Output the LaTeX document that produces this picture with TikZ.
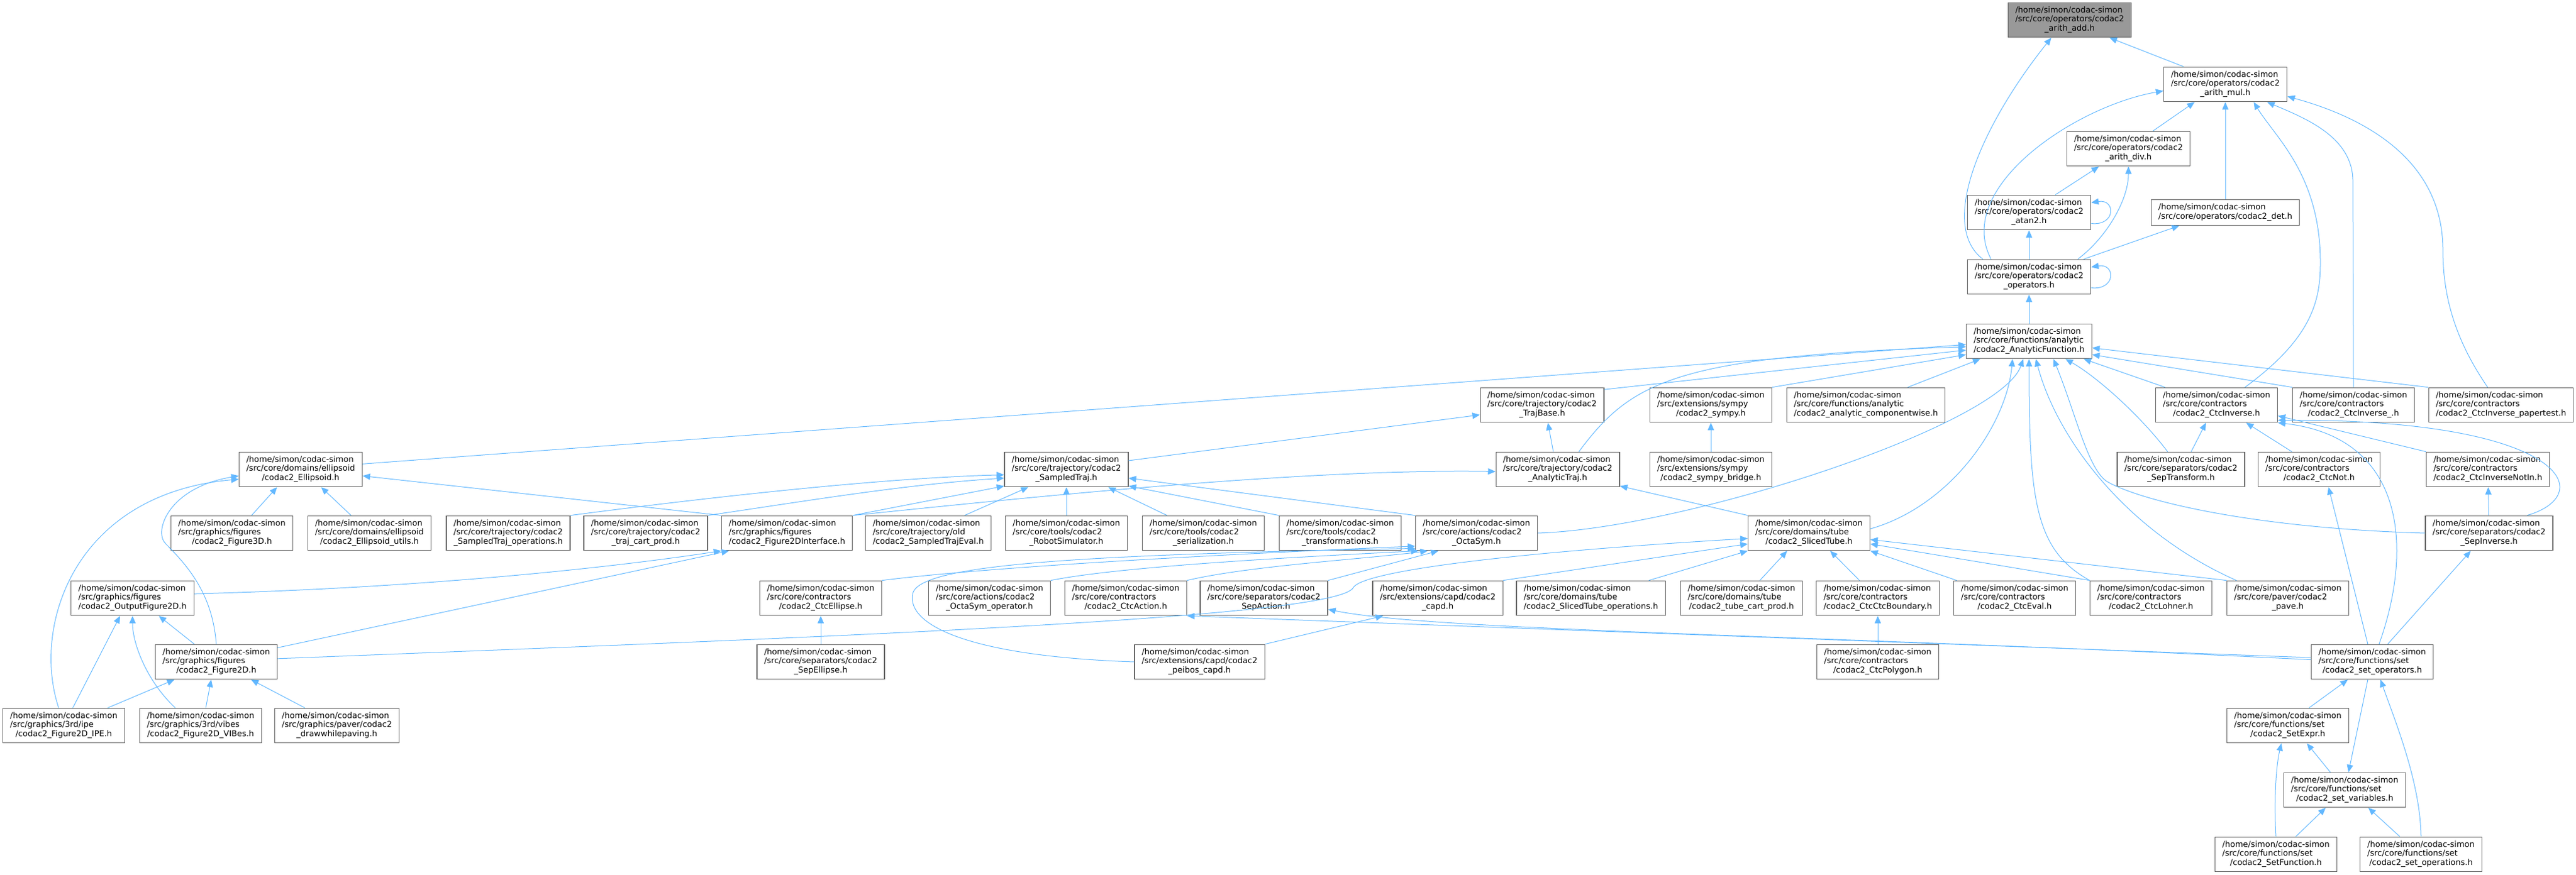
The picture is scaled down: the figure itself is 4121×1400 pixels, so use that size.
\documentclass[tikz,border=0pt]{standalone}
\usepackage{fontspec}
\setmainfont{DejaVu Sans}
\usetikzlibrary{arrows.meta}
\definecolor{edgeblue}{HTML}{63B8FF}
\definecolor{boxline}{HTML}{666666}
\definecolor{rootfill}{HTML}{999999}
\newcommand{\incfile}[2]{\begin{tabular}{@{}l@{}}/home/simon/codac-simon\\#1\\\multicolumn{1}{@{}c@{}}{#2}\end{tabular}}
\tikzset{
  filebox/.style={draw=boxline,fill=white,line width=0.6pt,inner xsep=5.8pt,inner ysep=3pt,font=\fontsize{6.5}{7.25}\selectfont},
  rootbox/.style={filebox,fill=rootfill},
  dep/.style={draw=edgeblue,line width=0.5pt,-{Triangle[length=6pt,width=5pt]}}
}
\begin{document}
\begin{tikzpicture}[x=0.5pt,y=-0.5pt]
\useasboundingbox (0,0) rectangle (4121,1400);
\node[rootbox] (add) at (3311,32) {\incfile{/src/core/operators/codac2}{\_arith\_add.h}};
\node[filebox] (mul) at (3560,135) {\incfile{/src/core/operators/codac2}{\_arith\_mul.h}};
\node[filebox] (div) at (3405,238) {\incfile{/src/core/operators/codac2}{\_arith\_div.h}};
\node[filebox] (atan) at (3246,340) {\incfile{/src/core/operators/codac2}{\_atan2.h}};
\node[filebox] (det) at (3560,340) {\begin{tabular}{@{}l@{}}/home/simon/codac-simon\\/src/core/operators/codac2\_det.h\end{tabular}};
\node[filebox] (ops) at (3246,443) {\incfile{/src/core/operators/codac2}{\_operators.h}};
\node[filebox] (af) at (3246,546) {\incfile{/src/core/functions/analytic}{/codac2\_AnalyticFunction.h}};
\node[filebox] (trajbase) at (2467,648) {\incfile{/src/core/trajectory/codac2}{\_TrajBase.h}};
\node[filebox] (sympy) at (2737,648) {\incfile{/src/extensions/sympy}{/codac2\_sympy.h}};
\node[filebox] (compw) at (2985,648) {\incfile{/src/core/functions/analytic}{/codac2\_analytic\_componentwise.h}};
\node[filebox] (ctcinv) at (3546,648) {\incfile{/src/core/contractors}{/codac2\_CtcInverse.h}};
\node[filebox] (ctcinvu) at (3765,648) {\incfile{/src/core/contractors}{/codac2\_CtcInverse\_.h}};
\node[filebox] (paper) at (4001,648) {\incfile{/src/core/contractors}{/codac2\_CtcInverse\_papertest.h}};
\node[filebox] (ellipsoid) at (481,751) {\incfile{/src/core/domains/ellipsoid}{/codac2\_Ellipsoid.h}};
\node[filebox] (sampled) at (1706,751) {\incfile{/src/core/trajectory/codac2}{\_SampledTraj.h}};
\node[filebox] (antraj) at (2492,751) {\incfile{/src/core/trajectory/codac2}{\_AnalyticTraj.h}};
\node[filebox] (bridge) at (2737,751) {\incfile{/src/extensions/sympy}{/codac2\_sympy\_bridge.h}};
\node[filebox] (septrans) at (3489,751) {\incfile{/src/core/separators/codac2}{\_SepTransform.h}};
\node[filebox] (ctcnot) at (3710,751) {\incfile{/src/core/contractors}{/codac2\_CtcNot.h}};
\node[filebox] (notin) at (3980,751) {\incfile{/src/core/contractors}{/codac2\_CtcInverseNotIn.h}};
\node[filebox] (fig3d) at (371,853) {\incfile{/src/graphics/figures}{/codac2\_Figure3D.h}};
\node[filebox] (ellutils) at (591,853) {\incfile{/src/core/domains/ellipsoid}{/codac2\_Ellipsoid\_utils.h}};
\node[filebox] (stops) at (813,853) {\incfile{/src/core/trajectory/codac2}{\_SampledTraj\_operations.h}};
\node[filebox] (cartprod) at (1033,853) {\incfile{/src/core/trajectory/codac2}{\_traj\_cart\_prod.h}};
\node[filebox] (fig2di) at (1259,853) {\incfile{/src/graphics/figures}{/codac2\_Figure2DInterface.h}};
\node[filebox] (steval) at (1485,853) {\incfile{/src/core/trajectory/old}{/codac2\_SampledTrajEval.h}};
\node[filebox] (robot) at (1706,853) {\incfile{/src/core/tools/codac2}{\_RobotSimulator.h}};
\node[filebox] (serial) at (1925,853) {\incfile{/src/core/tools/codac2}{\_serialization.h}};
\node[filebox] (transf) at (2144,853) {\incfile{/src/core/tools/codac2}{\_transformations.h}};
\node[filebox] (octa) at (2362,853) {\incfile{/src/core/actions/codac2}{\_OctaSym.h}};
\node[filebox] (sliced) at (2894,853) {\incfile{/src/core/domains/tube}{/codac2\_SlicedTube.h}};
\node[filebox] (sepinv) at (3982,853) {\incfile{/src/core/separators/codac2}{\_SepInverse.h}};
\node[filebox] (outfig) at (212,957) {\incfile{/src/graphics/figures}{/codac2\_OutputFigure2D.h}};
\node[filebox] (ctcell) at (1313,957) {\incfile{/src/core/contractors}{/codac2\_CtcEllipse.h}};
\node[filebox] (octaop) at (1583,957) {\incfile{/src/core/actions/codac2}{\_OctaSym\_operator.h}};
\node[filebox] (ctcact) at (1801,957) {\incfile{/src/core/contractors}{/codac2\_CtcAction.h}};
\node[filebox] (sepact) at (2022,957) {\incfile{/src/core/separators/codac2}{\_SepAction.h}};
\node[filebox] (capd) at (2300,957) {\incfile{/src/extensions/capd/codac2}{\_capd.h}};
\node[filebox] (stubeops) at (2545,957) {\incfile{/src/core/domains/tube}{/codac2\_SlicedTube\_operations.h}};
\node[filebox] (tcart) at (2786,957) {\incfile{/src/core/domains/tube}{/codac2\_tube\_cart\_prod.h}};
\node[filebox] (ctcbound) at (3004,957) {\incfile{/src/core/contractors}{/codac2\_CtcCtcBoundary.h}};
\node[filebox] (ctceval) at (3223,957) {\incfile{/src/core/contractors}{/codac2\_CtcEval.h}};
\node[filebox] (lohner) at (3441,957) {\incfile{/src/core/contractors}{/codac2\_CtcLohner.h}};
\node[filebox] (pave) at (3660,957) {\incfile{/src/core/paver/codac2}{\_pave.h}};
\node[filebox] (fig2d) at (346,1059) {\incfile{/src/graphics/figures}{/codac2\_Figure2D.h}};
\node[filebox] (sepell) at (1313,1059) {\incfile{/src/core/separators/codac2}{\_SepEllipse.h}};
\node[filebox] (peibos) at (1919,1059) {\incfile{/src/extensions/capd/codac2}{\_peibos\_capd.h}};
\node[filebox] (polygon) at (3004,1059) {\incfile{/src/core/contractors}{/codac2\_CtcPolygon.h}};
\node[filebox] (setops) at (3795,1059) {\incfile{/src/core/functions/set}{/codac2\_set\_operators.h}};
\node[filebox] (ipe) at (102,1161) {\incfile{/src/graphics/3rd/ipe}{/codac2\_Figure2D\_IPE.h}};
\node[filebox] (vibes) at (321,1161) {\incfile{/src/graphics/3rd/vibes}{/codac2\_Figure2D\_VIBes.h}};
\node[filebox] (paving) at (539,1161) {\incfile{/src/graphics/paver/codac2}{\_drawwhilepaving.h}};
\node[filebox] (setexpr) at (3660,1161) {\incfile{/src/core/functions/set}{/codac2\_SetExpr.h}};
\node[filebox] (setvars) at (3751,1264) {\incfile{/src/core/functions/set}{/codac2\_set\_variables.h}};
\node[filebox] (setfunc) at (3641,1367) {\incfile{/src/core/functions/set}{/codac2\_SetFunction.h}};
\node[filebox] (setoper) at (3873,1367) {\incfile{/src/core/functions/set}{/codac2\_set\_operations.h}};
\draw[dep] (mul.157) -- (add.336);
\draw[dep] (ops.159) .. controls (3100,360) and (3170,200) .. (add.224);
\draw[dep] (ops.155) .. controls (3125,300) and (3320,170) .. (mul.186);
\draw[dep] (div.36) -- (mul.210);
\draw[dep] (det) -- (mul);
\draw[dep] (atan.34) -- (div.211);
\draw[dep] (atan.-10) .. controls (3385,362) and (3385,318) .. (atan.9);
\draw[dep] (ops.20) .. controls (3370,380) and (3405,320) .. (div.south);
\draw[dep] (ops) -- (atan);
\draw[dep] (ops.18) -- (det.196);
\draw[dep] (ops.-10) .. controls (3385,465) and (3385,421) .. (ops.9);
\draw[dep] (af) -- (ops);
\draw[dep] (ctcinv.32) .. controls (3700,540) and (3712,480) .. (3712,420) .. controls (3712,280) and (3640,220) .. (mul.328);
\draw[dep] (ctcinvu.north) -- (3764,290) .. controls (3764,220) and (3690,190) .. (mul.337);
\draw[dep] (paper.127) .. controls (3925,540) and (3908,470) .. (3908,400) .. controls (3908,260) and (3790,190) .. (mul.-11);
\draw[dep] (ctcinv.161) -- (af.342);
\draw[dep] (ctcinvu.north west) -- (af.-12);
\draw[dep] (paper.north west) -- (af.-6);
\draw[dep] (compw.23) -- (af.200);
\draw[dep] (sympy.north east) -- (af.192);
\draw[dep] (trajbase.14) -- (af.188);
\draw[dep] (antraj.40) .. controls (2610,610) and (2680,570) .. (af.185);
\draw[dep] (ellipsoid.5) -- (af.183);
\draw[dep] (octa.east) .. controls (2700,845) and (3200,680) .. (af.252);
\draw[dep] (sliced.4) .. controls (3120,810) and (3210,680) .. (af.227);
\draw[dep] (lohner.north west) .. controls (3255,880) and (3246,800) .. (af.south);
\draw[dep] (pave.161) .. controls (3400,850) and (3290,700) .. (af.291);
\draw[dep] (sepinv.west) .. controls (3600,845) and (3420,800) .. (3370,770) .. controls (3340,750) and (3320,660) .. (af.324);
\draw[dep] (septrans.127) .. controls (3420,660) and (3350,600) .. (af.334);
\draw[dep] (notin.north west) -- (ctcinv.-10);
\draw[dep] (ctcnot.147) -- (ctcinv.329);
\draw[dep] (septrans.60) -- (ctcinv.239);
\draw[dep] (sepinv.25) .. controls (4160,790) and (4100,670) .. (ctcinv.-14);
\draw[dep] (setops.69) .. controls (3860,880) and (3850,700) .. (ctcinv.south east);
\draw[dep] (setops.104) -- (ctcnot.298);
\draw[dep] (setops.49) -- (sepinv.224);
\draw[dep] (sepinv) -- (notin);
\draw[dep] (bridge) -- (sympy);
\draw[dep] (antraj.104) -- (trajbase.288);
\draw[dep] (sampled.8) -- (trajbase.189);
\draw[dep] (sliced.north west) -- (antraj.-15);
\draw[dep] (fig2di.north east) .. controls (1700,790) and (2100,750) .. (antraj.182);
\draw[dep] (fig2di.north east) -- (sampled.195);
\draw[dep] (cartprod.north east) .. controls (1300,800) and (1450,775) .. (sampled.188);
\draw[dep] (stops.north east) .. controls (1100,800) and (1400,765) .. (sampled.185);
\draw[dep] (steval.26) -- (sampled.205);
\draw[dep] (robot) -- (sampled);
\draw[dep] (serial.154) -- (sampled.337);
\draw[dep] (transf.north west) -- (sampled.-15);
\draw[dep] (octa.north west) -- (sampled.-8);
\draw[dep] (fig3d.42) -- (ellipsoid.217);
\draw[dep] (ellutils.136) -- (ellipsoid.319);
\draw[dep] (fig2di.north west) -- (ellipsoid.-6);
\draw[dep] (ipe.106) .. controls (50,1000) and (120,790) .. (ellipsoid.189);
\draw[dep] (fig2d.north) .. controls (340,950) and (300,905) .. (265,870) .. controls (245,850) and (270,780) .. (ellipsoid.186);
\draw[dep] (outfig.4) .. controls (700,940) and (1000,905) .. (fig2di.south west);
\draw[dep] (fig2d.13) -- (fig2di.197);
\draw[dep] (fig2d.141) -- (outfig.326);
\draw[dep] (ipe.63) -- (outfig.235);
\draw[dep] (vibes.145) .. controls (235,1090) and (212,1030) .. (outfig.south);
\draw[dep] (ipe.22) -- (fig2d.203);
\draw[dep] (vibes.74) -- (fig2d.254);
\draw[dep] (paving.151) -- (fig2d.333);
\draw[dep] (fig2d.3) .. controls (1300,1020) and (2140,990) .. (2165,940) .. controls (2180,915) and (2400,885) .. (sliced.185);
\draw[dep] (capd.north east) -- (sliced.190);
\draw[dep] (stubeops.17) -- (sliced.south west);
\draw[dep] (tcart.44) -- (sliced.219);
\draw[dep] (ctcbound.136) -- (sliced.320);
\draw[dep] (ctceval.163) -- (sliced.south east);
\draw[dep] (lohner.north west) -- (sliced.-10);
\draw[dep] (pave.north west) -- (sliced.-6);
\draw[dep] (polygon) -- (ctcbound);
\draw[dep] (ctcell.north east) .. controls (1600,905) and (2000,885) .. (octa.192);
\draw[dep] (octaop.north east) .. controls (1800,905) and (2100,890) .. (octa.197);
\draw[dep] (ctcact.north east) .. controls (2000,905) and (2180,895) .. (octa.200);
\draw[dep] (sepact.north east) -- (octa.205);
\draw[dep] (peibos.west) .. controls (1550,1050) and (1450,1000) .. (1460,950) .. controls (1470,905) and (1700,888) .. (octa.194);
\draw[dep] (peibos.north east) -- (capd.198);
\draw[dep] (sepell) -- (ctcell);
\draw[dep] (setops.176) -- (ctcact.south east);
\draw[dep] (setops.178) .. controls (2900,1015) and (2300,1010) .. (sepact.-10);
\draw[dep] (setexpr.40) -- (setops.216);
\draw[dep] (setops.256) -- (setvars.78);
\draw[dep] (setvars.129) -- (setexpr.317);
\draw[dep] (setfunc.north) .. controls (3638,1290) and (3640,1230) .. (setexpr.250);
\draw[dep] (setfunc.42) -- (setvars.223);
\draw[dep] (setoper.140) -- (setvars.323);
\draw[dep] (setoper.north) .. controls (3872,1250) and (3830,1150) .. (setops.295);
\end{tikzpicture}
\end{document}
